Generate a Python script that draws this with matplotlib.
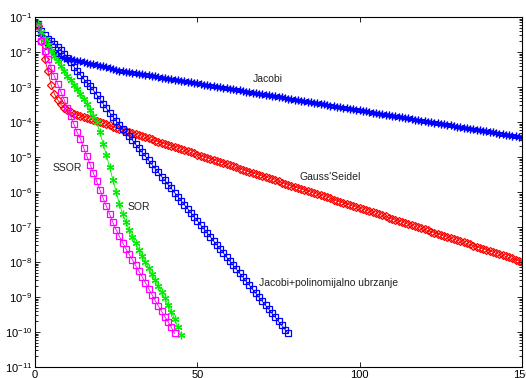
"""
Residual convergence of iterative solvers (semilog).
"""
import numpy as np
import matplotlib
matplotlib.use("Agg")
import matplotlib.pyplot as plt
from matplotlib.ticker import LogLocator, NullFormatter, FixedLocator

plt.rcParams['font.family'] = ['Liberation Sans', 'DejaVu Sans']
plt.rcParams['mathtext.default'] = 'regular'

# log10 of the residual at each iteration
jacobi_log = [
    -1.20, -1.50, -1.72, -1.87, -1.97, -2.04, -2.09, -2.13, -2.16, -2.19, -2.21, -2.23, -2.25,
    -2.27, -2.29, -2.31, -2.33, -2.35, -2.37, -2.39, -2.41, -2.43, -2.46, -2.48, -2.51,
    -2.53, -2.54, -2.56, -2.57, -2.59, -2.60, -2.62, -2.63, -2.65, -2.66, -2.68, -2.70, -2.71,
    -2.73, -2.74, -2.76, -2.77, -2.79, -2.80, -2.82, -2.83, -2.85, -2.87, -2.88, -2.90,
    -2.91, -2.93, -2.94, -2.96, -2.97, -2.99, -3.00, -3.02, -3.04, -3.05, -3.07, -3.08, -3.10,
    -3.11, -3.13, -3.14, -3.16, -3.17, -3.19, -3.21, -3.22, -3.24, -3.25, -3.27, -3.28,
    -3.30, -3.31, -3.33, -3.34, -3.36, -3.38, -3.39, -3.41, -3.42, -3.44, -3.45, -3.47, -3.48,
    -3.50, -3.51, -3.53, -3.55, -3.56, -3.58, -3.59, -3.61, -3.62, -3.64, -3.65, -3.67,
    -3.68, -3.70, -3.72, -3.73, -3.75, -3.76, -3.78, -3.79, -3.81, -3.82, -3.84, -3.85, -3.87,
    -3.88, -3.90, -3.92, -3.93, -3.95, -3.96, -3.98, -3.99, -4.01, -4.02, -4.04, -4.05,
    -4.07, -4.09, -4.10, -4.12, -4.13, -4.15, -4.16, -4.18, -4.19, -4.21, -4.22, -4.24, -4.26,
    -4.27, -4.29, -4.30, -4.32, -4.33, -4.35, -4.36, -4.38, -4.39, -4.41, -4.43, -4.44,
]
gs_log = [
    -1.25, -1.70, -2.20, -2.55, -2.95, -3.20, -3.37, -3.50, -3.60, -3.67, -3.72, -3.77, -3.80,
    -3.83, -3.86, -3.89, -3.92, -3.95, -3.98, -4.01, -4.04, -4.07, -4.10, -4.13, -4.16,
    -4.20, -4.23, -4.26, -4.29, -4.32, -4.35, -4.38, -4.41, -4.44, -4.47, -4.50, -4.53, -4.56,
    -4.59, -4.62, -4.65, -4.68, -4.72, -4.75, -4.78, -4.81, -4.84, -4.87, -4.90, -4.93,
    -4.96, -4.99, -5.02, -5.05, -5.08, -5.11, -5.14, -5.17, -5.21, -5.24, -5.27, -5.30, -5.33,
    -5.36, -5.39, -5.42, -5.45, -5.48, -5.51, -5.54, -5.57, -5.60, -5.63, -5.66, -5.69,
    -5.73, -5.76, -5.79, -5.82, -5.85, -5.88, -5.91, -5.94, -5.97, -6.00, -6.03, -6.06, -6.09,
    -6.12, -6.15, -6.18, -6.22, -6.25, -6.28, -6.31, -6.34, -6.37, -6.40, -6.43, -6.46,
    -6.49, -6.52, -6.55, -6.58, -6.61, -6.64, -6.67, -6.70, -6.74, -6.77, -6.80, -6.83, -6.86,
    -6.89, -6.92, -6.95, -6.98, -7.01, -7.04, -7.07, -7.10, -7.13, -7.16, -7.19, -7.22,
    -7.26, -7.29, -7.32, -7.35, -7.38, -7.41, -7.44, -7.47, -7.50, -7.53, -7.56, -7.59, -7.62,
    -7.65, -7.68, -7.71, -7.75, -7.78, -7.81, -7.84, -7.87, -7.90, -7.93, -7.96, -7.99,
]
poly_log = [
    -1.20, -1.40, -1.52, -1.62, -1.70, -1.78, -1.86, -1.94, -2.05, -2.18, -2.30, -2.42, -2.54,
    -2.66, -2.77, -2.88, -2.98, -3.10, -3.22, -3.35, -3.48, -3.61, -3.73, -3.85, -3.97,
    -4.08, -4.19, -4.30, -4.41, -4.52, -4.64, -4.75, -4.87, -4.98, -5.10, -5.21, -5.33, -5.44,
    -5.56, -5.67, -5.79, -5.90, -6.02, -6.13, -6.25, -6.36, -6.48, -6.59, -6.71, -6.82,
    -6.94, -7.05, -7.17, -7.28, -7.40, -7.51, -7.63, -7.74, -7.86, -7.97, -8.09, -8.20, -8.32,
    -8.43, -8.55, -8.66, -8.78, -8.89, -9.01, -9.12, -9.24, -9.35, -9.47, -9.58, -9.70,
    -9.81, -9.93, -10.04,
]
sor_log = [
    -1.20, -1.42, -1.62, -1.80, -1.96, -2.11, -2.26, -2.40, -2.54, -2.68, -2.81, -2.94, -3.07,
    -3.20, -3.34, -3.49, -3.65, -3.82, -4.00, -4.30, -4.62, -4.95, -5.30, -5.65, -6.00,
    -6.35, -6.62, -6.86, -7.08, -7.28, -7.47, -7.65, -7.83, -8.00, -8.17, -8.34, -8.51, -8.68,
    -8.86, -9.04, -9.22, -9.42, -9.63, -9.86, -10.10,
]
ssor_log = [
    -1.25, -1.70, -1.98, -2.20, -2.45, -2.70, -2.92, -3.14, -3.37, -3.60, -3.84, -4.07, -4.30,
    -4.48, -4.74, -4.98, -5.22, -5.46, -5.70, -5.94, -6.18, -6.41, -6.64, -6.87, -7.08,
    -7.27, -7.45, -7.62, -7.78, -7.94, -8.10, -8.26, -8.42, -8.59, -8.76, -8.93, -9.10, -9.26,
    -9.41, -9.56, -9.71, -9.87, -10.04,
]

labels = ['Jacobi', "Gauss'Seidel", 'Jacobi+polinomijalno ubrzanje', 'SOR', 'SSOR']
label_pos = [(67.0, 10**-2.77), (81.5, 10**-5.57), (69.0, 10**-8.61),
             (28.6, 10**-6.44), (5.4, 10**-5.31)]

ASTER = (6, 2, 0)


def _series(ax, vals, color, marker, ms, filled):
    it = np.arange(1, len(vals) + 1)
    ax.semilogy(it, 10.0 ** np.array(vals), color=color, lw=0.6,
                marker=marker, ms=ms, mew=0.9,
                mfc=color if filled else 'none', mec=color)


fig = plt.figure(figsize=(5.26, 3.78), dpi=100)
ax = fig.add_axes([35/526, 11/378, 487/526, 350/378])

_series(ax, jacobi_log, '#0000ff', ASTER, 5.5, True)
_series(ax, gs_log, '#ff0000', 'D', 4.2, False)
_series(ax, poly_log, '#0000ff', 's', 3.9, False)
_series(ax, sor_log, '#00ee00', ASTER, 5.5, True)
_series(ax, ssor_log, '#ff00ff', 's', 3.9, False)

for txt, (x, y) in zip(labels, label_pos):
    ax.text(x, y, txt, ha='left', va='center', fontsize=7.5, color='#222222')

ax.set_xlim(0, 150)
ax.set_ylim(1e-11, 1e-1)
ax.xaxis.set_major_locator(FixedLocator([0, 50, 100, 150]))
ax.yaxis.set_major_locator(LogLocator(base=10, numticks=20))
ax.yaxis.set_minor_locator(LogLocator(base=10, subs=np.arange(2, 10), numticks=20))
ax.yaxis.set_minor_formatter(NullFormatter())
ax.tick_params(which='both', direction='in', top=True, right=True,
               labelsize=8, width=0.6, pad=2)
ax.tick_params(which='major', length=3.5)
ax.tick_params(which='minor', length=2)
for s in ax.spines.values():
    s.set_linewidth(0.8)

fig.savefig('out.png', dpi=100)
